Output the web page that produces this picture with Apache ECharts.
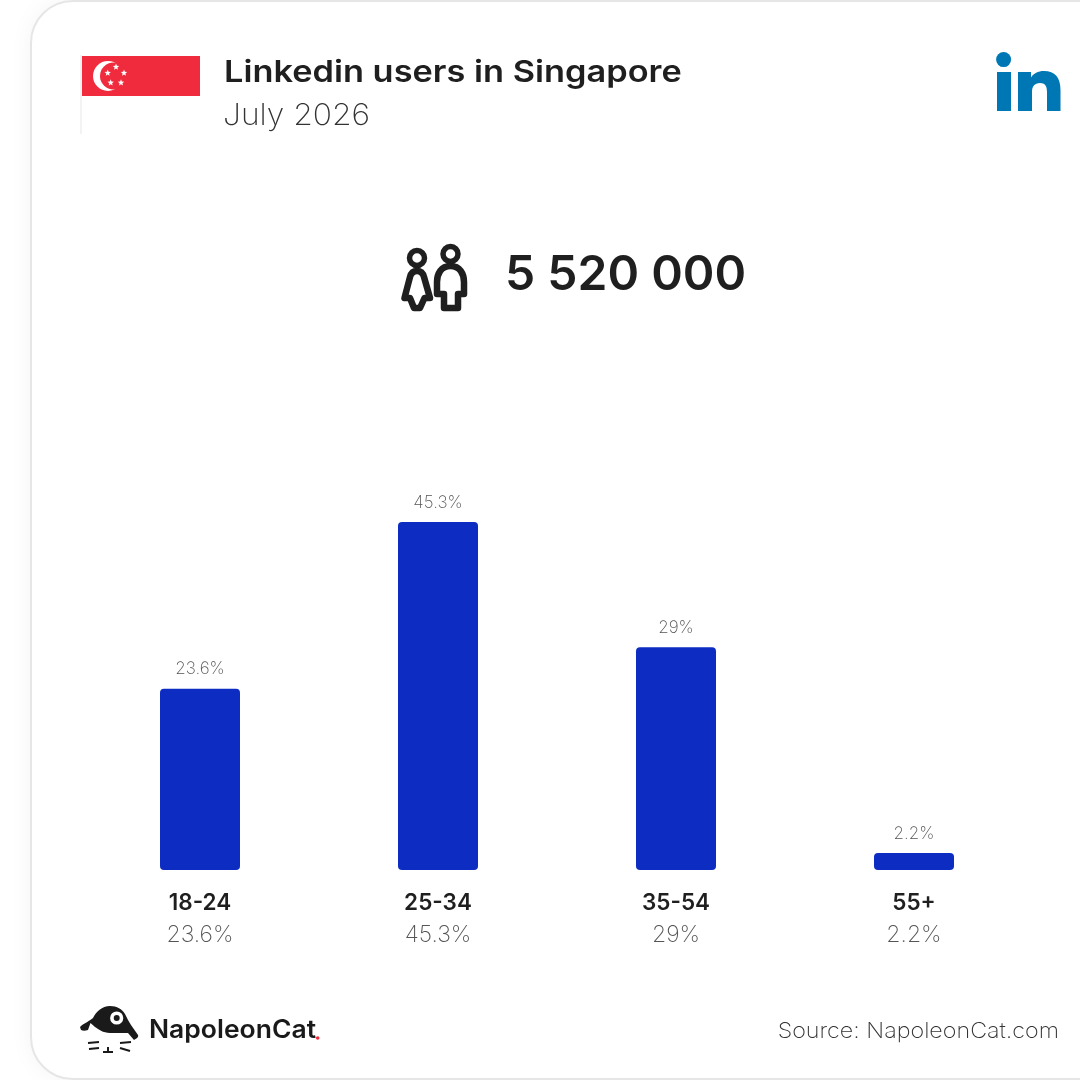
<!DOCTYPE html>
<html><head><meta charset="utf-8">
<style>html,body{margin:0;padding:0;background:#fff}#c{width:1080px;height:1080px}</style>
<script src="https://cdn.jsdelivr.net/npm/echarts@6/dist/echarts.min.js"></script>
</head><body><div id="c"></div>
<script>
const categories = ['18-24','25-34','35-54','55+'];
const shares = [23.6,45.3,29,2.2];
const titleText = 'Linkedin users in Singapore';
const subtitleText = 'July 2026';
const totalText = '5 520 000';
const sourceText = 'Source: NapoleonCat.com';
const brandText = 'NapoleonCat';
const FONT = 'Inter';
const star = (cx,cy,r) => { let d=''; for(let i=0;i<10;i++){const a=-Math.PI/2+i*Math.PI/5,q=i%2?r*0.42:r; d+=(i?'L':'M')+(cx+q*Math.cos(a)).toFixed(2)+' '+(cy+q*Math.sin(a)).toFixed(2);} return d+'Z'; };
let shapeId = 0;
const path = (d,style) => { const name='decor'+(shapeId++); echarts.graphic.registerShape(name, echarts.graphic.extendPath(d,{})); return {type:name,style}; };
const chart = echarts.init(document.getElementById('c'));
chart.setOption({
  animation:false,
  backgroundColor:'#ffffff',
  grid:{left:81,right:47,top:486,bottom:210},
  xAxis:{type:'category',data:categories,axisLine:{show:false},axisTick:{show:false},
    axisLabel:{margin:17,interval:0,lineHeight:32,
      formatter:(v,i)=>`{a|${v}}\n{b|${shares[i]}%}`,
      rich:{a:{fontFamily:FONT,fontSize:22.5,fontWeight:600,color:'#1f1f1f',lineHeight:32},
            b:{fontFamily:FONT,fontSize:23,fontWeight:200,color:'#555555',lineHeight:32}}}},
  yAxis:{type:'value',min:0,max:50,show:false,splitLine:{show:false}},
  series:[{type:'bar',data:shares,barWidth:80,
    itemStyle:{color:'#0c2cc2',borderRadius:[4,4,4,4]},
    label:{show:true,position:'top',distance:11,formatter:p=>p.value+'%',fontFamily:FONT,fontSize:17,fontWeight:200,color:'#555555'}}],
  graphic:{elements:[
    {type:'rect',z:-10,shape:{x:31,y:1,width:1200,height:1078,r:42},style:{fill:'#ffffff',stroke:'#e6e6e6',lineWidth:2,shadowBlur:24,shadowColor:'rgba(0,0,0,0.05)'}},
    {type:'rect',shape:{x:80,y:55,width:2,height:79},style:{fill:'#f3f3f3'}},
    {type:'rect',shape:{x:82,y:56,width:118,height:40},style:{fill:'#ef2b3d'}},
    {type:'circle',shape:{cx:108,cy:76,r:15},style:{fill:'#fff'}},
    {type:'circle',shape:{cx:113.5,cy:76,r:13.5},style:{fill:'#ef2b3d'}},
    ...[[116,67],[107.7,73],[124,73],[110.7,82.7],[121,82.7]].map(([x,y])=>path(star(x,y,3.4),{fill:'#fff'})),
    {type:'text',x:224,y:73,scaleX:1.145,style:{x:0,y:0,text:titleText,fontFamily:FONT,fontSize:30,fontWeight:600,fill:'#1f1f1f',verticalAlign:'middle'}},
    {type:'text',x:223,y:116,scaleX:1.06,style:{x:0,y:0,text:subtitleText,fontFamily:FONT,fontSize:30,fontWeight:200,fill:'#333',verticalAlign:'middle'}},
    {type:'circle',shape:{cx:1003.6,cy:59.6,r:7.5},style:{fill:'#0077b5'}},
    {type:'rect',shape:{x:997,y:72,width:14,height:39},style:{fill:'#0077b5'}},
    path('M1018 72H1031V77.5C1033.5 73.5 1038 71 1044 71C1055 71 1060.5 77.5 1060.5 90V111H1047V92C1047 86 1045 83 1040 83C1034.5 83 1032 86.5 1032 92V111H1018Z',{fill:'#0077b5'}),
    {type:'circle',shape:{cx:417,cy:258,r:7.5},style:{fill:'none',stroke:'#1f1f1f',lineWidth:5.5}},
    {type:'circle',shape:{cx:450.5,cy:254,r:7.5},style:{fill:'none',stroke:'#1f1f1f',lineWidth:5.5}},
    path('M417 271C413 271 411 273 410 277L404.5 298H410L414 308H420L424.5 298H430L424 277C423 273 421 271 417 271Z',{fill:'none',stroke:'#1f1f1f',lineWidth:6.5,lineJoin:'round'}),
    path('M450.5 266C441 266 437 274 437 282V294H444V308H458V294H464V282C464 274 460 266 450.5 266Z',{fill:'none',stroke:'#1f1f1f',lineWidth:6.5,lineJoin:'round'}),
    {type:'text',style:{x:505,y:276,text:totalText,fontFamily:FONT,fontSize:48,fontWeight:600,fill:'#1f1f1f',verticalAlign:'middle'}},
    path('M80 1027C84 1023 90 1021 93 1018C96 1012 102 1006 110 1006C117 1006 122 1009 125 1014C127 1018 129 1022 131 1025L138 1035C139 1037 136 1039 134 1040L128 1033H110C103 1033 98 1029 95 1027L90.500 1023L88 1030C85 1031 83 1031 81 1030Z',{fill:'#1a1a1a'}),
    {type:'circle',shape:{cx:116.7,cy:1018,r:4.8},style:{fill:'none',stroke:'#fff',lineWidth:3.6}},
    path('M88 1043L99 1042M89 1049L99 1048M103 1052H113M108 1047V1052M120 1043L131 1042M120 1048L130 1051',{fill:'none',stroke:'#1a1a1a',lineWidth:2}),
    {type:'text',x:149,y:1030,scaleX:1.06,style:{x:0,y:0,text:brandText,fontFamily:FONT,fontSize:25,fontWeight:600,fill:'#1a1a1a',verticalAlign:'middle'}},
    {type:'circle',shape:{cx:317.7,cy:1038,r:1.8},style:{fill:'#ef2b3d'}},
    {type:'text',x:1059,y:1031,scaleX:1.06,style:{x:0,y:0,text:sourceText,fontFamily:FONT,fontSize:22,fontWeight:200,fill:'#333',align:'right',verticalAlign:'middle'}}
  ]}
});
</script></body></html>
